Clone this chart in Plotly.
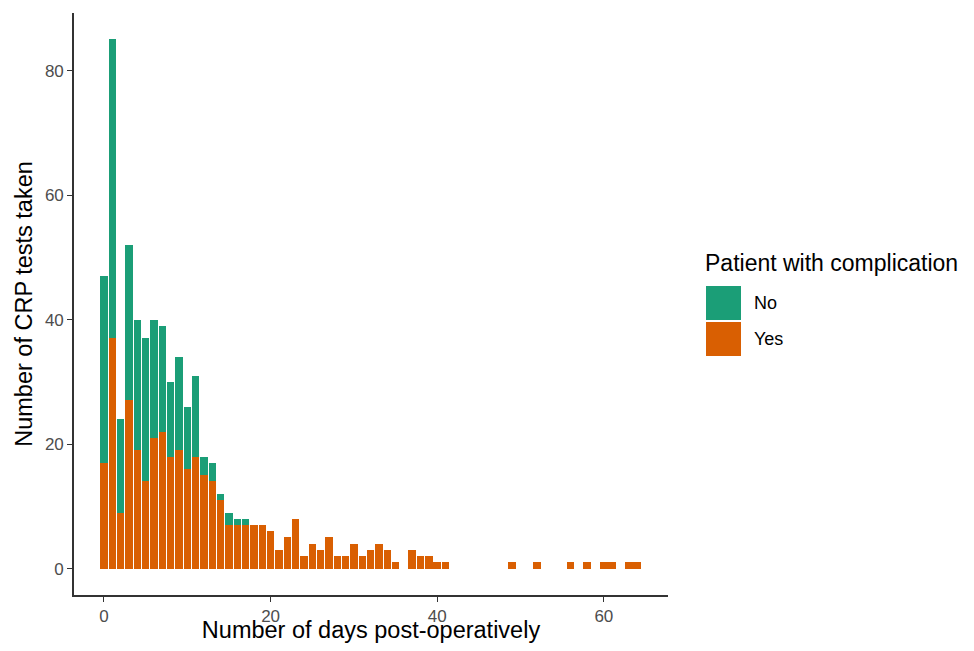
import plotly.graph_objects as go

# ---- data ----
days = list(range(0, 42)) + [49, 52, 56, 58, 60, 61, 63, 64]
yes_counts = [17, 37, 9, 27, 19, 14, 21, 22, 18, 19, 16, 18, 15, 14, 11, 7, 7, 7, 7, 7,
              6, 3, 5, 8, 2, 4, 3, 5, 2, 2, 4, 2, 3, 4, 3, 1, 0, 3, 2, 2, 1, 1,
              1, 1, 1, 1, 1, 1, 1, 1]
no_counts = [30, 48, 15, 25, 21, 23, 19, 17, 12, 15, 10, 13, 3, 3, 1, 2, 1, 1, 0, 0,
             0, 0, 0, 0, 0, 0, 0, 0, 0, 0, 0, 0, 0, 0, 0, 0, 0, 0, 0, 0, 0, 0,
             0, 0, 0, 0, 0, 0, 0, 0]
legend_title = "Patient with complication"
legend_labels = ["No", "Yes"]
y_ticks = [0, 20, 40, 60, 80]
x_ticks = [0, 20, 40, 60]

GREEN = "#1B9E77"
ORANGE = "#D95F02"
FONT = "Liberation Sans, Arial, sans-serif"

# page has an 8px body margin on every side, so the figure is shifted by OFF px
OFF = 8
W, H = 974 - 2 * OFF, 651 - 2 * OFF
L, T = 74 - OFF, 13 - OFF
R = W + OFF - 668
B = H + OFF - 595

fig = go.Figure()
fig.add_trace(go.Bar(x=days, y=yes_counts, name="Yes", marker_color=ORANGE,
                     marker_line_width=0, width=0.9, showlegend=False))
fig.add_trace(go.Bar(x=days, y=no_counts, name="No", marker_color=GREEN,
                     marker_line_width=0, width=0.9, showlegend=False))


def px_to_paper_x(px):
    return (px - OFF - L) / (W - L - R)


def px_to_paper_y(py):
    return 1 - (py - OFF - T) / (H - T - B)


# manual legend (large key squares like ggplot)
fig.add_annotation(x=px_to_paper_x(703), y=px_to_paper_y(263), xref="paper", yref="paper",
                   text=legend_title, showarrow=False, xanchor="left", yanchor="middle",
                   font=dict(family=FONT, size=23, color="black"))
key_colors = [GREEN, ORANGE]
key_tops = [286, 322]
for lab, col, top in zip(legend_labels, key_colors, key_tops):
    fig.add_shape(type="rect", xref="paper", yref="paper",
                  x0=px_to_paper_x(706), x1=px_to_paper_x(741),
                  y0=px_to_paper_y(top), y1=px_to_paper_y(top + 34),
                  fillcolor=col, line=dict(width=0))
    fig.add_annotation(x=px_to_paper_x(752), y=px_to_paper_y(top + 17), xref="paper", yref="paper",
                       text=lab, showarrow=False, xanchor="left", yanchor="middle",
                       font=dict(family=FONT, size=18, color="black"))

fig.update_layout(
    width=W, height=H,
    margin=dict(l=L, r=R, t=T, b=B, pad=0, autoexpand=False),
    barmode="stack", bargap=0.1,
    plot_bgcolor="white", paper_bgcolor="white",
    font=dict(family=FONT, color="black"),
    showlegend=False,
)
fig.update_xaxes(range=[-3.6, 67.7], tickvals=x_ticks, ticks="outside", ticklen=5,
                 tickwidth=1.3, tickcolor="#333333", showline=True, linecolor="#333333",
                 linewidth=1.6, showgrid=False, zeroline=False, automargin=False,
                 tickfont=dict(family=FONT, size=17, color="#4D4D4D"),
                 title=dict(text="Number of days post-operatively", standoff=9,
                            font=dict(family=FONT, size=23.5, color="black")))
fig.update_yaxes(range=[-4.25, 89.25], tickvals=y_ticks, ticks="outside", ticklen=5,
                 tickwidth=1.3, tickcolor="#333333", showline=True, linecolor="#333333",
                 linewidth=1.6, showgrid=False, zeroline=False, automargin=False,
                 tickfont=dict(family=FONT, size=17, color="#4D4D4D"),
                 title=dict(text="Number of CRP tests taken", standoff=6,
                            font=dict(family=FONT, size=23.5, color="black")))

fig.write_html("out.html")
